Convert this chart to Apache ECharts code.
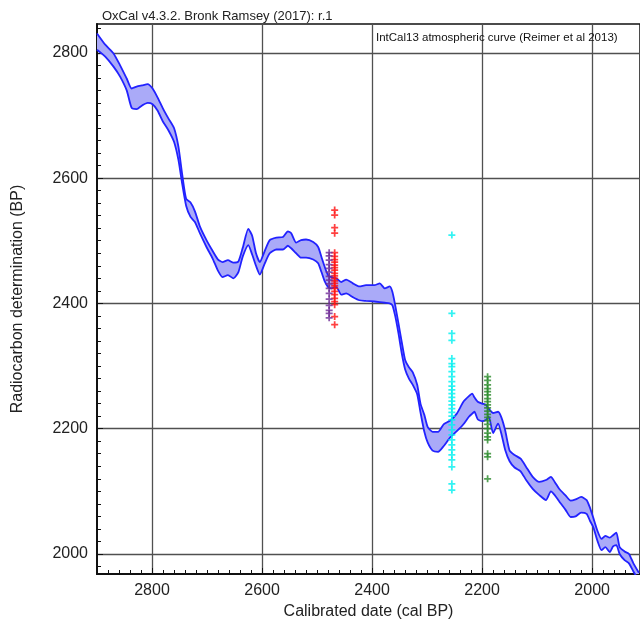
<!DOCTYPE html>
<html>
<head>
<meta charset="utf-8">
<script src="https://cdn.jsdelivr.net/npm/echarts@6/dist/echarts.min.js"></script>
<style>
  html, body { margin: 0; padding: 0; background: #fff; }
  #chart { width: 640px; height: 625px; }
</style>
</head>
<body>
<div id="chart"></div>
<script>
// IntCal13 band: cal BP -> upper / lower 14C BP
var calBP = [2900, 2885, 2870, 2858, 2846, 2837, 2828, 2818, 2808, 2799,
  2790, 2780, 2770, 2760, 2752, 2745, 2738, 2730, 2722, 2713,
  2701, 2690, 2680, 2672, 2662, 2652, 2643, 2635, 2625, 2618,
  2611, 2604, 2595, 2586, 2574, 2562, 2553, 2547, 2538, 2529,
  2520, 2507, 2498, 2492, 2486, 2480, 2474, 2465, 2456, 2447,
  2435, 2423, 2411, 2396, 2386, 2377, 2368, 2363, 2358, 2352,
  2346, 2340, 2333, 2326, 2318, 2312, 2305, 2299, 2290, 2280,
  2270, 2258, 2246, 2234, 2224, 2218, 2214, 2208, 2200, 2193,
  2188, 2180, 2171, 2165, 2158, 2150, 2141, 2130, 2120, 2108,
  2096, 2084, 2075, 2068, 2060, 2048, 2039, 2030, 2020, 2010,
  2004, 1998, 1990, 1983, 1976, 1968, 1962, 1956, 1950, 1941,
  1933, 1925, 1915];
var curveUpper = [2831, 2813, 2799, 2780, 2759, 2743, 2746, 2748, 2750, 2743,
  2729, 2711, 2695, 2680, 2650, 2605, 2567, 2561, 2547, 2523,
  2501, 2484, 2470, 2466, 2469, 2465, 2467, 2489, 2519, 2508,
  2480, 2466, 2484, 2501, 2505, 2506, 2515, 2512, 2497, 2501,
  2502, 2498, 2490, 2474, 2458, 2445, 2442, 2440, 2434, 2438,
  2432, 2427, 2429, 2429, 2432, 2424, 2427, 2418, 2397, 2368,
  2338, 2310, 2298, 2290, 2270, 2240, 2222, 2203, 2195, 2195,
  2207, 2213, 2224, 2243, 2252, 2256, 2250, 2243, 2240, 2238,
  2232, 2225, 2227, 2218, 2197, 2165, 2158, 2152, 2139, 2123,
  2115, 2118, 2123, 2115, 2104, 2093, 2085, 2087, 2091, 2086,
  2074, 2058, 2036, 2024, 2029, 2026, 2030, 2034, 2011, 2004,
  2000, 1985, 1970];
var curveLower = [2805, 2794, 2778, 2762, 2740, 2712, 2710, 2716, 2720, 2718,
  2708, 2690, 2676, 2658, 2629, 2590, 2556, 2538, 2530, 2512,
  2490, 2472, 2452, 2442, 2445, 2440, 2450, 2475, 2493, 2478,
  2460, 2446, 2464, 2480, 2486, 2486, 2492, 2488, 2480, 2473,
  2473, 2470, 2464, 2450, 2435, 2426, 2424, 2426, 2414, 2416,
  2410, 2405, 2404, 2403, 2402, 2401, 2400, 2397, 2380, 2352,
  2320, 2295, 2280, 2270, 2255, 2226, 2195, 2178, 2165, 2163,
  2172, 2186, 2196, 2207, 2219, 2224, 2227, 2215, 2212, 2214,
  2219, 2193, 2208, 2192, 2166, 2148, 2138, 2132, 2118, 2104,
  2094, 2086, 2100, 2094, 2084, 2070, 2059, 2060, 2066, 2064,
  2053, 2043, 2020, 2006, 2011, 2003, 2012, 2014, 2000, 1990,
  1985, 1972, 1958];

// determinations (14C BP), each group plotted at one cal date
var redDate = 2468;
var redAges = [2549, 2541, 2521, 2512, 2481, 2475, 2470, 2466, 2461, 2457, 2453, 2448,
  2444, 2440, 2436, 2432, 2428, 2424, 2419, 2414, 2408, 2403, 2398, 2379, 2366];
var purpleDate = 2478;
var purpleAges = [2481, 2476, 2469, 2462, 2456, 2450, 2443, 2437, 2431, 2424, 2416,
  2407, 2397, 2389, 2384, 2377];
var cyanDate = 2255;
var cyanAges = [2509, 2384, 2352, 2341, 2312, 2304, 2299, 2291, 2283, 2275, 2268, 2262,
  2256, 2250, 2244, 2238, 2232, 2226, 2220, 2214, 2206, 2198, 2190, 2182, 2174, 2166,
  2158, 2150, 2139, 2112, 2102];
var greenDate = 2190;
var greenAges = [2283, 2277, 2270, 2264, 2259, 2254, 2248, 2243, 2238, 2233, 2228, 2223,
  2218, 2213, 2207, 2200, 2193, 2187, 2182, 2160, 2155, 2120];

var xTicks = [2800, 2600, 2400, 2200, 2000];
var yTicks = [2000, 2200, 2400, 2600, 2800];
var xMin = 1913, xMax = 2900;
var yMin = 1968, yMax = 2846;

function minorTicks(lo, hi) {
  var out = [];
  for (var v = Math.ceil(lo / 20) * 20; v <= hi; v += 20) {
    if (v % 200 !== 0) out.push(v);
  }
  return out;
}

var FONT = "Liberation Sans, Arial, sans-serif";
var PLUS = "path://M3,0H5V3H8V5H5V8H3V5H0V3H3Z";
var BLUE = "#2222ff";

function pairs(xs, ys) {
  return xs.map(function (x, i) { return [x, ys[i]]; });
}
function column(x, ys) {
  return ys.map(function (y) { return [x, y]; });
}
function plain(v) { return String(v); }

// filled band between upper and lower edge
function renderBand(params, api) {
  var pts = [];
  for (var i = 0; i < calBP.length; i++) pts.push(api.coord([calBP[i], curveUpper[i]]));
  for (var j = calBP.length - 1; j >= 0; j--) pts.push(api.coord([calBP[j], curveLower[j]]));
  var cs = params.coordSys;
  return {
    type: "polygon",
    shape: { points: pts, smooth: 0.2 },
    style: { fill: "#aaaaf8", stroke: null },
    clipPath: { type: "rect", shape: { x: cs.x, y: cs.y, width: cs.width, height: cs.height } },
  };
}

var chart = echarts.init(document.getElementById("chart"));
var option = {
  animation: false,
  title: [
    {
      text: "OxCal v4.3.2. Bronk Ramsey (2017): r.1",
      left: 97,
      top: 5,
      textStyle: { fontFamily: FONT, fontSize: 13, fontWeight: "normal", color: "#222" },
    },
    {
      text: "IntCal13 atmospheric curve (Reimer et al 2013)",
      left: 371,
      top: 27,
      textStyle: { fontFamily: FONT, fontSize: 11.5, fontWeight: "normal", color: "#111" },
    },
  ],
  grid: {
    left: 97,
    top: 24,
    right: 0,
    bottom: 51,
    show: true,
    borderColor: "#111",
    borderWidth: 1.5,
  },
  xAxis: [
    {
      type: "value",
      min: xMin,
      max: xMax,
      inverse: true,
      name: "Calibrated date (cal BP)",
      nameLocation: "middle",
      nameGap: 29,
      nameTextStyle: { fontFamily: FONT, fontSize: 16, color: "#222" },
      axisLine: { show: true, lineStyle: { color: "#111", width: 2 } },
      axisTick: { show: true, inside: true, length: 6, customValues: xTicks, lineStyle: { color: "#111" } },
      axisLabel: { customValues: xTicks, formatter: plain, margin: 9, fontFamily: FONT, fontSize: 16, color: "#222" },
      splitLine: { show: true, lineStyle: { color: "#505050", width: 1.3 } },
    },
    {
      type: "value",
      min: xMin,
      max: xMax,
      inverse: true,
      position: "bottom",
      axisLine: { show: false },
      axisTick: { show: true, inside: true, length: 4, customValues: minorTicks(xMin, xMax), lineStyle: { color: "#111" } },
      axisLabel: { show: false },
      splitLine: { show: false },
    },
  ],
  yAxis: [
    {
      type: "value",
      min: yMin,
      max: yMax,
      name: "Radiocarbon determination (BP)",
      nameLocation: "middle",
      nameGap: 71,
      nameTextStyle: { fontFamily: FONT, fontSize: 16, color: "#222" },
      axisLine: { show: true, lineStyle: { color: "#111", width: 2 } },
      axisTick: { show: true, inside: true, length: 6, customValues: yTicks, lineStyle: { color: "#111" } },
      axisLabel: { customValues: yTicks, formatter: plain, margin: 9, fontFamily: FONT, fontSize: 16, color: "#222" },
      splitLine: { show: true, lineStyle: { color: "#505050", width: 1.3 } },
    },
    {
      type: "value",
      min: yMin,
      max: yMax,
      position: "left",
      axisLine: { show: false },
      axisTick: { show: true, inside: true, length: 4, customValues: minorTicks(yMin, yMax), lineStyle: { color: "#111" } },
      axisLabel: { show: false },
      splitLine: { show: false },
    },
  ],
  series: [
    {
      type: "custom",
      z: 2,
      renderItem: renderBand,
      data: [0],
      silent: true,
    },
    {
      name: "upper",
      type: "line",
      z: 3,
      symbol: "none",
      smooth: 0.2,
      data: pairs(calBP, curveUpper),
      lineStyle: { color: BLUE, width: 1.8 },
    },
    {
      name: "lower",
      type: "line",
      z: 3,
      symbol: "none",
      smooth: 0.2,
      data: pairs(calBP, curveLower),
      lineStyle: { color: BLUE, width: 1.8 },
    },
    {
      type: "scatter",
      z: 5,
      symbol: PLUS,
      symbolSize: 7,
      itemStyle: { color: "#ff1010" },
      data: column(redDate, redAges),
    },
    {
      type: "scatter",
      z: 6,
      symbol: PLUS,
      symbolSize: 7,
      itemStyle: { color: "#6e2a96" },
      data: column(purpleDate, purpleAges),
    },
    {
      type: "scatter",
      z: 5,
      symbol: PLUS,
      symbolSize: 7,
      itemStyle: { color: "#00f0f0" },
      data: column(cyanDate, cyanAges),
    },
    {
      type: "scatter",
      z: 5,
      symbol: PLUS,
      symbolSize: 7,
      itemStyle: { color: "#2a8a2a" },
      data: column(greenDate, greenAges),
    },
  ],
};
chart.setOption(option);
</script>
</body>
</html>
